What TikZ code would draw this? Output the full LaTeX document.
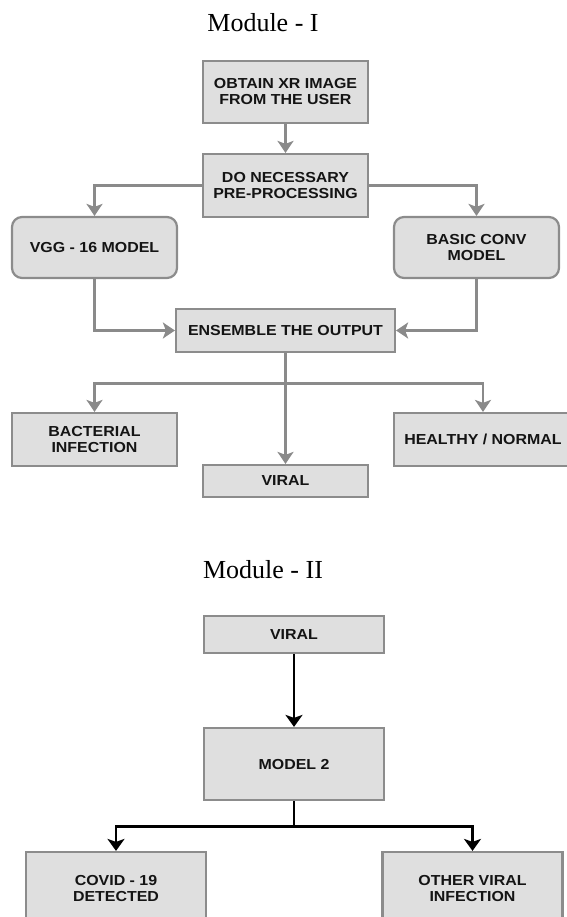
\documentclass[tikz,border=0pt]{standalone}
\usepackage{fontspec}
\setmainfont{Liberation Serif}
\newfontfamily\boxfont{Liberation Sans}[FakeStretch=1.1]
\usepackage{tikz}
\usetikzlibrary{arrows.meta, positioning}
\definecolor{boxfill}{RGB}{223,223,223}
\definecolor{boxline}{RGB}{140,140,140}
\definecolor{flowgray}{RGB}{138,138,138}
\definecolor{boxtext}{RGB}{20,20,20}

\begin{document}
\begin{tikzpicture}[x=1pt, y=-1pt,
    stage/.style={rectangle, draw=boxline, fill=boxfill, line width=2.2pt,
      inner sep=0pt, align=center, text=boxtext,
      font=\boxfont\bfseries\fontsize{14.5}{16}\selectfont},
    model/.style={stage, rounded corners=10pt},
    flow/.style={-{Stealth[length=12pt, width=16pt, inset=3pt]}, flowgray,
      line width=2.8pt},
    flowdark/.style={-{Stealth[length=12pt, width=17pt, inset=3pt]}, black,
      line width=2.8pt},
    heading/.style={anchor=base, font=\fontsize{26}{30}\selectfont}]
  \useasboundingbox (0,0) rectangle (566,917);

  % module I
  \node[heading] (titleA) at (263,31.7) {Module - I};
  \node[stage, minimum width=165pt, minimum height=62pt] (obtain) at (285.5,92)
    {OBTAIN XR IMAGE\\FROM THE USER};
  \node[stage, minimum width=165pt, minimum height=63pt] (prep) at (285.5,185.5)
    {DO NECESSARY\\PRE-PROCESSING};
  \node[model, minimum width=165pt, minimum height=61pt] (vgg) at (94.5,247.5)
    {VGG - 16 MODEL};
  \node[model, minimum width=165pt, minimum height=61pt] (conv) at (476.5,247.5)
    {BASIC CONV\\MODEL};
  \node[stage, minimum width=219pt, minimum height=43pt] (ensemble) at (285.5,330.5)
    {ENSEMBLE THE OUTPUT};
  \node[stage, minimum width=165pt, minimum height=53pt] (bact) at (94.5,439.5)
    {BACTERIAL\\INFECTION};
  \node[stage, minimum width=178pt, minimum height=53pt] (healthy) at (483,439.5)
    {HEALTHY / NORMAL};
  \node[stage, minimum width=165pt, minimum height=32pt] (viral) at (285.5,481)
    {VIRAL};

  \draw[flow] (obtain) -- (prep);
  \draw[flow] (prep.west) -| (vgg.north);
  \draw[flow] (prep.east) -| (conv.north);
  \draw[flow] (vgg.south) |- (ensemble.west);
  \draw[flow] (conv.south) |- (ensemble.east);
  \draw[flow] (ensemble) -- (viral);
  \coordinate (split) at ([yshift=-30pt]ensemble.south);
  \foreach \leaf in {bact, healthy}
    \draw[flow] (split) -| (\leaf.north);

  % module II
  \node[heading] (titleB) at (263,578.3) {Module - II};
  \node[stage, minimum width=180pt, minimum height=37pt] (viralB) at (294,634.5)
    {VIRAL};
  \node[stage, minimum width=180pt, minimum height=72pt] (model2) at (294,764)
    {MODEL 2};
  \node[stage, minimum width=180pt, minimum height=72pt] (covid) at (116,888)
    {COVID - 19\\DETECTED};
  \node[stage, minimum width=180pt, minimum height=72pt] (other) at (472.5,888)
    {OTHER VIRAL\\INFECTION};

  \draw[flowdark] (viralB) -- (model2);
  \coordinate (fork) at ([yshift=-25.7pt]model2.south);
  \draw[black, line width=2.8pt] (model2.south) -- (fork);
  \foreach \leaf in {covid, other}
    \draw[flowdark] (fork) -| (\leaf.north);
\end{tikzpicture}
\end{document}
